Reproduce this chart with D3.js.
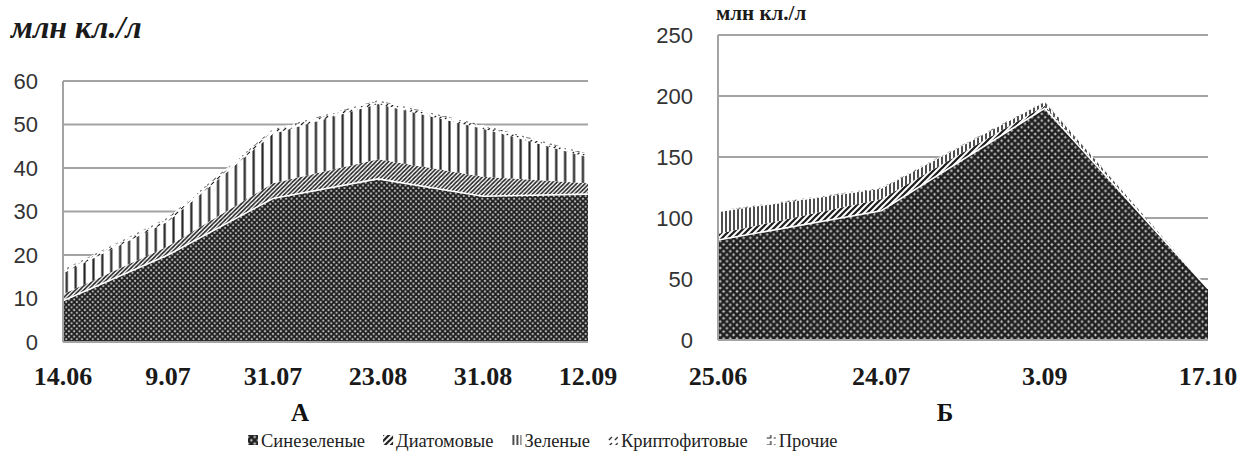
<!DOCTYPE html>
<html>
<head>
<meta charset="utf-8">
<title>Фитопланктон: А и Б</title>
<style>
  body { margin: 0; background: #fff; }
  .ytick { font-family: "Liberation Sans", Arial, sans-serif; font-size: 22px; fill: #333; }
  .xtick { font-family: "Liberation Serif", "DejaVu Serif", serif; font-weight: bold; font-size: 26px; fill: #1a1a1a; }
  .grid { stroke: #a3a3a3; stroke-width: 2; }
  .unit { font-family: "Liberation Serif", "DejaVu Serif", serif; font-weight: bold; fill: #1a1a1a; }
  .panel { font-family: "Liberation Serif", "DejaVu Serif", serif; font-weight: bold; font-size: 25px; fill: #111; }
  .legtext { font-family: "Liberation Serif", "DejaVu Serif", serif; font-size: 18.5px; fill: #222; }
</style>
</head>
<body>
<svg id="chart" width="1238" height="462"></svg>
<script src="https://d3js.org/d3.v7.min.js"></script>
<script>
// groups of algae (legend order = stacking order)
const groups = ['Синезеленые', 'Диатомовые', 'Зеленые', 'Криптофитовые', 'Прочие'];

// panel А
const datesA = ['14.06', '9.07', '31.07', '23.08', '31.08', '12.09'];
const blueGreenA = [9.5, 20, 33, 37.5, 33.5, 34];
const diatomsA = [1.5, 2, 3.5, 4.5, 4.5, 2.5];
const greenA = [4.8, 5.7, 11.4, 12.7, 11, 6];
const cryptoA = [0.5, 0.6, 0.7, 0.6, 0.6, 0.5];
const otherA = [0.3, 0.3, 0.3, 0.3, 0.3, 0.3];
const ticksA = [0, 10, 20, 30, 40, 50, 60];

// panel Б
const datesB = ['25.06', '24.07', '3.09', '17.10'];
const blueGreenB = [82, 106, 190, 42];
const diatomsB = [5, 9.5, 2, 0];
const greenB = [18, 8.5, 3, 0];
const cryptoB = [0.5, 0.5, 0.4, 0];
const otherB = [0.5, 0.5, 0.3, 0];
const ticksB = [0, 50, 100, 150, 200, 250];

const svg = d3.select('#chart');
const defs = svg.append('defs');

// hatch patterns, like the old Excel fills
function makePatterns(sfx, cell, vstep, dstep) {
  let p = defs.append('pattern').attr('id', 'bg' + sfx)
    .attr('patternUnits', 'userSpaceOnUse').attr('width', cell).attr('height', cell);
  p.append('rect').attr('width', cell).attr('height', cell).attr('fill', '#7a7a7a');
  p.append('path')
    .attr('d', `M0,0L${cell},${cell}M${cell},0L0,${cell}`)
    .attr('stroke', '#1e1e1e').attr('stroke-width', cell * 0.32);
  [[cell / 2, 0], [0, cell / 2], [cell, cell / 2], [cell / 2, cell]].forEach(c => {
    p.append('rect').attr('x', c[0] - 0.6).attr('y', c[1] - 0.6)
      .attr('width', 1.2).attr('height', 1.2).attr('fill', '#fff');
  });

  p = defs.append('pattern').attr('id', 'dia' + sfx)
    .attr('patternUnits', 'userSpaceOnUse').attr('width', dstep).attr('height', dstep);
  p.append('rect').attr('width', dstep).attr('height', dstep).attr('fill', '#fff');
  p.append('path')
    .attr('d', `M0,${dstep}L${dstep},0M${-dstep / 2},${dstep / 2}L${dstep / 2},${-dstep / 2}M${dstep / 2},${dstep * 1.5}L${dstep * 1.5},${dstep / 2}`)
    .attr('stroke', '#1e1e1e').attr('stroke-width', dstep * 0.38);

  p = defs.append('pattern').attr('id', 'gr' + sfx)
    .attr('patternUnits', 'userSpaceOnUse').attr('width', vstep).attr('height', 10);
  p.append('rect').attr('width', vstep).attr('height', 10).attr('fill', '#fff');
  p.append('line').attr('x1', vstep / 2).attr('x2', vstep / 2).attr('y1', 0).attr('y2', 10)
    .attr('stroke', '#222').attr('stroke-width', Math.min(2.2, vstep * 0.4));

  p = defs.append('pattern').attr('id', 'cr' + sfx)
    .attr('patternUnits', 'userSpaceOnUse').attr('width', 6).attr('height', 6);
  p.append('rect').attr('width', 6).attr('height', 6).attr('fill', '#fff');
  p.append('path').attr('d', 'M1,5L4,2').attr('stroke', '#222').attr('stroke-width', 1.2);

  p = defs.append('pattern').attr('id', 'ot' + sfx)
    .attr('patternUnits', 'userSpaceOnUse').attr('width', 7).attr('height', 7);
  p.append('rect').attr('width', 7).attr('height', 7).attr('fill', '#fff');
  p.append('path').attr('d', 'M1,5H5V1').attr('fill', 'none').attr('stroke', '#222').attr('stroke-width', 1.2);
}
makePatterns('A', 5.3, 8.9, 4.2);
makePatterns('B', 6.7, 4, 6);

const fillIds = ['bg', 'dia', 'gr', 'cr', 'ot'];

function drawPanel(cfg) {
  const rows = cfg.dates.map((d, i) => {
    let r = { date: d };
    groups.forEach((g, k) => r[g] = cfg.series[k][i]);
    return r;
  });

  let x = d3.scalePoint().domain(cfg.dates).range(cfg.xr);
  let y = d3.scaleLinear().domain([0, d3.max(cfg.ticks)]).range(cfg.yr);

  let g = svg.append('g');

  // grid
  g.selectAll('.grid').data(cfg.ticks.slice(1)).join('line')
    .attr('class', 'grid')
    .attr('x1', cfg.xr[0]).attr('x2', cfg.xr[1])
    .attr('y1', d => y(d)).attr('y2', d => y(d));

  let stack = d3.stack().keys(groups)(rows);
  let area = d3.area()
    .x(d => x(d.data.date))
    .y0(d => y(d[0]))
    .y1(d => y(d[1]));

  g.selectAll('.layer').data(stack).join('path')
    .attr('class', 'layer')
    .attr('d', area)
    .attr('fill', (d, i) => `url(#${fillIds[i]}${cfg.sfx})`);

  // white seam between blue-green and the rest
  g.append('path')
    .datum(stack[0])
    .attr('d', d3.line().x(d => x(d.data.date)).y(d => y(d[1])))
    .attr('fill', 'none').attr('stroke', '#fff').attr('stroke-width', 1.6);

  // axis frame
  g.append('line').attr('class', 'grid')
    .attr('x1', cfg.xr[0]).attr('x2', cfg.xr[0]).attr('y1', y(0)).attr('y2', y(d3.max(cfg.ticks)));
  g.append('line').attr('class', 'grid')
    .attr('x1', cfg.xr[0]).attr('x2', cfg.xr[1]).attr('y1', y(0)).attr('y2', y(0));

  g.selectAll('.ytick').data(cfg.ticks).join('text')
    .attr('class', 'ytick')
    .attr('x', cfg.xr[0] - 25).attr('y', d => y(d))
    .attr('dy', '0.36em').attr('text-anchor', 'end')
    .text(d => d);

  g.selectAll('.xtick').data(cfg.dates).join('text')
    .attr('class', 'xtick')
    .attr('x', d => x(d)).attr('y', 385)
    .attr('text-anchor', 'middle')
    .text(d => d);
}

drawPanel({
  sfx: 'A', dates: datesA, ticks: ticksA,
  series: [blueGreenA, diatomsA, greenA, cryptoA, otherA],
  xr: [63, 588], yr: [342, 81]
});
drawPanel({
  sfx: 'B', dates: datesB, ticks: ticksB,
  series: [blueGreenB, diatomsB, greenB, cryptoB, otherB],
  xr: [718, 1208], yr: [340, 35]
});

// unit captions
svg.append('text').attr('class', 'unit')
  .attr('x', 11).attr('y', 38)
  .style('font-style', 'italic').style('font-size', '32px')
  .text('млн кл./л');
svg.append('text').attr('class', 'unit')
  .attr('x', 716).attr('y', 20)
  .style('font-size', '21px')
  .text('млн кл./л');

svg.append('text').attr('class', 'panel').attr('x', 300).attr('y', 421).attr('text-anchor', 'middle').text('А');
svg.append('text').attr('class', 'panel').attr('x', 945).attr('y', 421).attr('text-anchor', 'middle').text('Б');

// legend
let leg = svg.append('g');
let lx = 248;
groups.forEach((gname, i) => {
  let it = leg.append('g').attr('transform', `translate(${lx},447)`);
  it.append('rect').attr('x', 0).attr('y', -12).attr('width', 10).attr('height', 10)
    .attr('fill', `url(#${fillIds[i]}B)`);
  let t = it.append('text').attr('class', 'legtext').attr('x', 13).attr('y', 0).text(gname);
  lx += 13 + t.node().getComputedTextLength() + 18;
});
</script>
</body>
</html>
